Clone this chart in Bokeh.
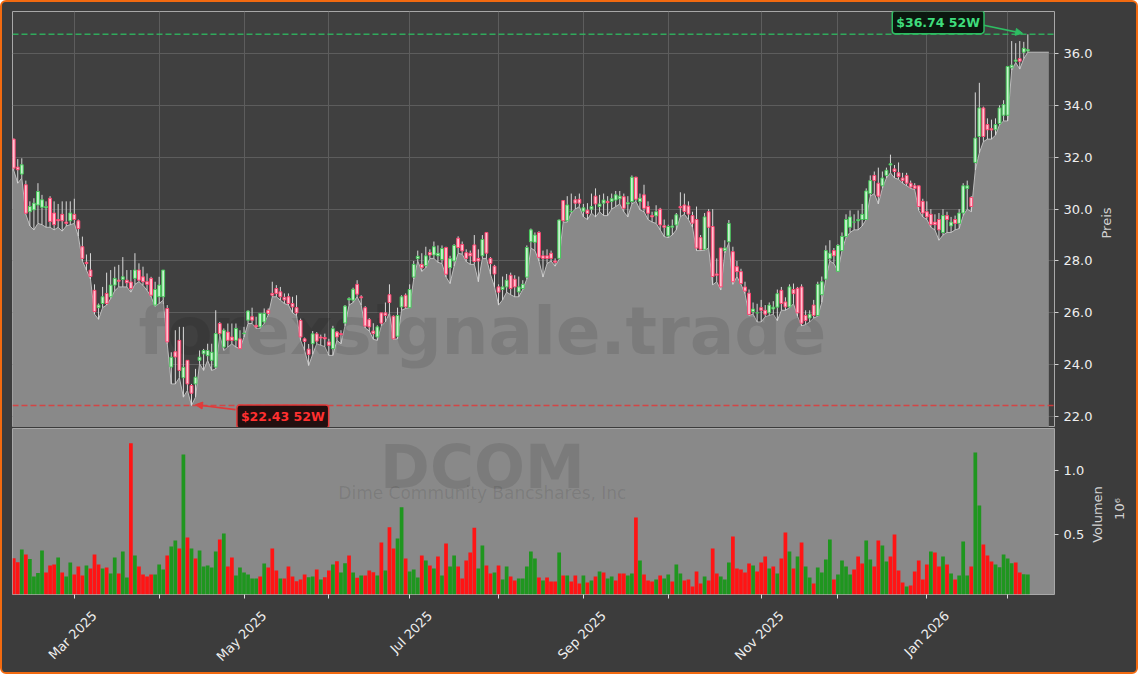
import math
import numpy as np
import pandas as pd
from bokeh.plotting import figure
from bokeh.layouts import column, row
from bokeh.models import (ColumnDataSource, FixedTicker, LinearAxis, Range1d, Span, Label,
                          Arrow, NormalHead, NumeralTickFormatter, Grid)
from bokeh.embed import file_html
from bokeh.resources import INLINE
from bokeh.core.properties import value

# ---------------- data ----------------
HOLIDAYS = ["2025-02-17", "2025-04-18", "2025-05-26", "2025-06-19", "2025-07-04",
            "2025-09-01", "2025-11-27", "2025-12-25", "2026-01-01", "2026-01-19"]
dates = pd.bdate_range("2025-02-07", "2026-02-09", freq="C", holidays=HOLIDAYS)

open_ = [
32.70, 31.62, 31.35, 30.94, 29.90, 29.97, 30.16, 30.07, 30.05, 30.42,
29.85, 29.60, 29.80, 29.50, 29.55, 29.80, 29.55, 28.55, 27.95, 27.65,
26.87, 26.20, 26.36, 26.75, 26.62, 27.07, 27.26, 27.29, 27.26, 27.19,
27.33, 27.65, 27.39, 27.20, 27.33, 26.30, 26.62, 26.62, 26.17, 23.91,
24.50, 24.94, 23.50, 24.17, 23.20, 23.26, 24.17, 24.42, 24.35, 24.17,
23.91, 25.59, 24.68, 25.26, 25.07, 24.94, 25.00, 25.20, 25.72, 25.85,
25.52, 25.46, 25.65, 26.10, 26.75, 26.94, 26.81, 26.60, 26.62, 26.36,
26.20, 25.71, 25.00, 24.60, 24.81, 25.19, 25.07, 25.05, 24.88, 24.62,
25.26, 25.20, 25.61, 26.50, 26.49, 27.10, 26.62, 26.20, 25.74, 25.30,
25.07, 26.00, 26.00, 26.70, 25.87, 25.10, 26.23, 26.68, 26.20, 27.38,
28.09, 27.87, 27.82, 28.33, 28.23, 28.20, 28.06, 28.52, 27.74, 28.00,
28.88, 28.64, 28.32, 28.30, 28.62, 28.10, 28.20, 29.10, 28.10, 27.80,
27.00, 26.90, 27.00, 27.45, 27.30, 26.81, 26.94, 27.38, 28.74, 28.72,
29.10, 28.20, 28.20, 28.30, 28.00, 28.10, 30.33, 29.55, 29.90, 30.36,
30.38, 29.92, 29.96, 30.00, 30.50, 30.10, 30.23, 30.30, 30.30, 30.35,
30.40, 30.48, 30.20, 30.29, 31.23, 30.29, 30.55, 30.10, 29.75, 29.74,
30.00, 29.36, 28.97, 29.30, 29.39, 30.10, 30.16, 30.12, 29.75, 29.60,
28.90, 28.45, 29.90, 29.33, 27.50, 28.50, 28.40, 28.74, 28.36, 27.78,
27.59, 27.00, 26.76, 26.05, 26.00, 26.20, 26.10, 26.00, 26.15, 26.22,
26.87, 26.42, 26.23, 26.90, 26.95, 27.00, 25.90, 25.80, 26.30, 25.90,
26.70, 27.30, 28.10, 28.40, 27.60, 28.40, 28.94, 29.30, 29.50, 29.55,
29.60, 29.60, 30.60, 31.30, 31.00, 30.90, 31.30, 31.70, 31.55, 31.40,
31.20, 31.30, 31.00, 30.90, 30.90, 30.30, 29.90, 29.80, 29.50, 29.60,
29.10, 29.75, 29.35, 29.60, 29.45, 29.85, 30.80, 30.45, 31.80, 32.80,
33.90, 33.26, 33.10, 33.06, 33.30, 33.62, 33.62, 35.45, 35.70, 35.80,
36.05, 36.10]

high = [
32.72, 31.93, 31.96, 31.10, 30.30, 30.42, 31.00, 30.55, 30.30, 30.50,
30.30, 30.20, 30.30, 30.30, 30.30, 30.40, 29.60, 28.94, 28.25, 28.30,
27.10, 26.36, 27.00, 27.55, 27.65, 27.78, 27.85, 28.15, 27.65, 27.65,
28.30, 27.91, 27.78, 27.52, 27.39, 27.20, 27.39, 27.65, 26.30, 24.48,
25.33, 25.46, 25.46, 24.17, 23.26, 23.84, 24.55, 24.61, 24.81, 24.81,
26.10, 25.65, 25.40, 25.59, 25.59, 25.59, 25.33, 25.46, 26.10, 26.20,
25.85, 25.98, 26.17, 26.17, 27.20, 27.07, 27.00, 26.75, 26.75, 26.62,
26.68, 25.78, 25.05, 24.80, 25.30, 25.26, 25.16, 25.20, 25.00, 25.50,
25.30, 25.33, 26.30, 26.60, 26.97, 27.26, 26.68, 26.26, 25.80, 25.60,
25.52, 26.00, 26.40, 27.10, 25.90, 26.20, 26.68, 26.75, 27.10, 28.00,
28.40, 28.30, 28.55, 28.45, 28.75, 28.60, 28.60, 28.55, 28.20, 28.65,
28.95, 28.75, 28.45, 28.40, 29.00, 28.45, 29.00, 29.10, 28.15, 27.85,
27.10, 27.40, 27.50, 27.55, 27.45, 27.40, 27.26, 28.60, 29.25, 29.10,
29.15, 28.40, 28.45, 28.40, 28.10, 29.60, 30.35, 30.50, 30.60, 30.50,
30.60, 30.20, 30.23, 30.60, 30.80, 30.55, 30.60, 30.50, 30.60, 30.70,
30.70, 30.60, 30.50, 31.30, 31.25, 30.60, 30.94, 30.30, 29.90, 30.15,
30.05, 29.60, 29.40, 29.60, 29.85, 30.65, 30.60, 30.30, 29.90, 30.10,
29.00, 29.85, 30.00, 30.00, 28.10, 28.50, 28.80, 29.58, 28.55, 28.00,
27.70, 27.20, 26.90, 26.40, 26.35, 26.50, 26.30, 26.40, 26.45, 26.90,
27.00, 26.60, 27.10, 27.13, 27.00, 27.10, 26.10, 26.10, 26.50, 27.20,
27.40, 28.60, 28.80, 28.50, 28.65, 29.10, 29.80, 29.95, 29.80, 29.95,
30.20, 30.80, 31.30, 31.45, 31.60, 31.45, 31.60, 32.10, 31.70, 31.80,
31.40, 31.40, 31.10, 31.00, 30.90, 30.40, 30.30, 30.00, 29.80, 29.85,
30.00, 29.90, 29.70, 29.75, 30.00, 31.00, 31.10, 30.50, 34.50, 34.87,
33.95, 33.50, 33.45, 33.50, 34.00, 34.20, 35.50, 36.48, 36.40, 36.48,
36.45, 36.74]

low = [
31.50, 31.00, 31.20, 29.80, 29.35, 29.20, 29.45, 29.40, 29.30, 29.30,
29.20, 29.30, 29.15, 29.35, 29.40, 29.45, 28.95, 28.00, 27.65, 27.30,
25.95, 25.75, 26.20, 26.30, 26.55, 26.85, 27.00, 27.00, 27.00, 26.80,
27.10, 27.20, 27.06, 26.87, 26.62, 26.25, 26.36, 26.49, 24.81, 23.26,
23.26, 23.50, 22.75, 23.01, 22.43, 22.75, 24.04, 23.78, 24.17, 23.78,
23.84, 25.13, 24.55, 24.68, 24.81, 24.68, 24.62, 25.07, 25.59, 25.59,
25.40, 25.40, 25.59, 25.92, 26.62, 26.62, 26.49, 26.36, 26.30, 26.00,
25.90, 24.94, 24.55, 23.97, 24.40, 24.81, 24.75, 24.70, 24.36, 24.36,
24.94, 24.81, 25.50, 26.30, 26.40, 26.62, 26.30, 25.42, 25.30, 24.98,
24.94, 25.50, 25.65, 26.00, 24.98, 25.00, 26.10, 26.17, 26.20, 27.30,
28.00, 27.60, 27.74, 28.10, 28.10, 27.95, 27.90, 27.38, 27.13, 27.80,
28.30, 28.26, 27.98, 27.87, 27.87, 27.20, 28.10, 28.10, 27.49, 27.00,
26.30, 26.50, 26.80, 26.70, 26.62, 26.62, 26.90, 27.30, 28.50, 28.40,
28.00, 27.38, 27.90, 28.00, 27.80, 28.06, 29.50, 29.50, 29.85, 30.00,
30.10, 29.70, 29.60, 29.85, 29.70, 29.90, 29.75, 29.75, 30.00, 30.10,
30.20, 29.90, 29.70, 30.20, 30.30, 29.97, 29.90, 29.60, 29.50, 29.45,
29.20, 28.94, 28.90, 29.00, 29.20, 29.71, 29.80, 29.60, 29.30, 28.40,
28.40, 28.42, 28.50, 27.08, 27.20, 26.88, 28.30, 28.70, 27.10, 27.40,
27.10, 26.74, 25.90, 25.95, 25.65, 25.65, 25.85, 25.90, 25.95, 25.70,
26.10, 26.10, 26.20, 26.35, 25.87, 25.50, 25.55, 25.65, 25.80, 25.87,
26.40, 27.30, 28.00, 27.90, 27.60, 28.40, 28.90, 29.10, 29.20, 29.20,
29.35, 29.60, 30.50, 30.60, 30.20, 30.80, 31.20, 31.40, 31.20, 31.15,
31.00, 30.90, 30.80, 30.75, 29.95, 29.70, 29.60, 29.30, 29.20, 28.80,
29.00, 29.10, 29.10, 29.20, 29.25, 29.75, 30.00, 29.90, 31.50, 32.17,
32.60, 32.70, 32.70, 32.85, 33.25, 33.40, 33.40, 35.35, 35.65, 35.40,
35.80, 36.05]

close = [
31.58, 31.52, 31.71, 29.84, 30.10, 30.23, 30.68, 30.36, 30.10, 29.52,
29.40, 29.55, 29.55, 29.45, 29.85, 29.60, 29.25, 28.10, 27.90, 27.40,
26.05, 26.30, 26.62, 26.36, 27.07, 27.33, 27.22, 27.39, 27.16, 26.94,
27.65, 27.26, 27.20, 27.10, 26.68, 26.90, 27.07, 27.65, 24.88, 24.29,
24.30, 23.78, 23.90, 23.26, 22.90, 23.52, 24.29, 24.55, 24.55, 24.48,
25.20, 25.20, 25.33, 24.94, 24.94, 25.40, 24.62, 25.22, 26.07, 25.72,
25.46, 25.98, 25.98, 25.98, 26.68, 26.75, 26.62, 26.50, 26.36, 26.23,
26.00, 25.07, 24.90, 24.40, 25.19, 24.91, 25.03, 25.00, 24.75, 25.39,
25.07, 25.16, 26.26, 26.55, 26.91, 26.72, 26.58, 25.49, 25.46, 25.20,
25.46, 25.60, 25.90, 26.40, 25.00, 25.90, 26.62, 26.23, 26.90, 27.87,
28.18, 27.74, 28.20, 28.23, 28.55, 28.30, 28.48, 27.49, 28.09, 28.60,
28.52, 28.39, 28.10, 28.20, 27.98, 28.00, 28.83, 28.30, 27.90, 27.50,
26.80, 27.00, 27.26, 26.94, 27.00, 27.00, 27.10, 28.52, 29.20, 29.00,
28.14, 28.10, 28.10, 28.10, 27.95, 29.58, 29.55, 30.16, 29.92, 30.23,
30.23, 30.05, 29.83, 30.10, 30.20, 30.20, 30.35, 30.25, 30.40, 30.55,
30.50, 30.03, 30.25, 31.23, 30.38, 30.42, 30.03, 29.84, 29.70, 29.90,
29.39, 29.30, 29.33, 29.35, 29.78, 30.05, 29.91, 29.81, 29.46, 28.50,
28.45, 29.70, 29.30, 27.40, 27.45, 27.00, 28.50, 29.45, 27.20, 27.59,
27.13, 26.84, 25.94, 26.15, 26.00, 26.10, 25.95, 26.30, 26.22, 26.74,
26.36, 26.23, 27.00, 26.74, 26.00, 25.60, 25.70, 25.95, 25.90, 27.10,
27.20, 28.40, 28.30, 28.20, 28.60, 28.95, 29.60, 29.70, 29.50, 29.60,
29.80, 30.70, 31.10, 31.10, 30.50, 31.20, 31.50, 31.75, 31.45, 31.25,
31.10, 31.00, 30.85, 30.80, 30.10, 29.85, 29.70, 29.40, 29.40, 29.20,
29.75, 29.60, 29.50, 29.45, 29.85, 30.90, 30.90, 30.10, 32.74, 33.90,
32.80, 33.06, 33.05, 33.26, 33.90, 34.03, 35.50, 35.55, 35.75, 35.70,
36.20, 36.15]

volume = [
318000, 287000, 386000, 347000, 313000, 176000, 204000, 378000, 207000, 261000,
269000, 323000, 207000, 176000, 285000, 191000, 254000, 184000, 261000, 238000,
347000, 269000, 238000, 246000, 199000, 323000, 199000, 370000, 168000, 1212000,
339000, 254000, 191000, 176000, 191000, 191000, 269000, 230000, 339000, 409000,
456000, 393000, 1124000, 479000, 393000, 316000, 378000, 254000, 261000, 246000,
370000, 463000, 510000, 254000, 323000, 184000, 246000, 207000, 191000, 160000,
160000, 176000, 277000, 246000, 393000, 222000, 160000, 160000, 254000, 176000,
139000, 152000, 191000, 170000, 176000, 230000, 152000, 170000, 222000, 269000,
295000, 207000, 279000, 339000, 207000, 166000, 184000, 184000, 222000, 209000,
184000, 440000, 222000, 559000, 393000, 471000, 715000, 316000, 215000, 230000,
168000, 339000, 300000, 261000, 238000, 331000, 184000, 432000, 254000, 339000,
254000, 160000, 300000, 362000, 556000, 238000, 417000, 261000, 199000, 207000,
261000, 152000, 254000, 176000, 145000, 160000, 160000, 254000, 370000, 316000,
168000, 145000, 168000, 137000, 137000, 362000, 184000, 184000, 137000, 184000,
121000, 184000, 129000, 145000, 176000, 215000, 207000, 160000, 176000, 145000,
199000, 199000, 184000, 199000, 635000, 300000, 191000, 145000, 137000, 152000,
184000, 160000, 191000, 137000, 269000, 199000, 145000, 152000, 98000, 215000,
121000, 176000, 145000, 393000, 199000, 176000, 152000, 285000, 487000, 238000,
230000, 207000, 277000, 261000, 215000, 285000, 331000, 238000, 254000, 199000,
316000, 518000, 370000, 238000, 331000, 440000, 254000, 168000, 121000, 246000,
207000, 308000, 463000, 152000, 191000, 300000, 253000, 191000, 230000, 331000,
277000, 456000, 308000, 253000, 456000, 417000, 292000, 331000, 502000, 222000,
129000, 98000, 106000, 215000, 300000, 152000, 269000, 370000, 362000, 253000,
331000, 269000, 199000, 152000, 184000, 448000, 184000, 253000, 1140000, 728000,
425000, 339000, 292000, 269000, 248000, 347000, 316000, 279000, 285000, 207000,
194000, 191000]

vol_up = [
0, 0, 1, 0, 1, 1, 1, 1, 0, 0,  0, 1, 0, 1, 1, 0, 0, 0, 1, 0,
0, 0, 1, 0, 1, 1, 0, 1, 1, 0,  1, 0, 0, 0, 0, 1, 1, 1, 0, 1,
1, 0, 1, 0, 1, 0, 1, 1, 1, 1,  1, 0, 1, 0, 0, 1, 1, 1, 1, 1,
1, 0, 1, 0, 0, 0, 1, 0, 0, 0,  0, 0, 0, 1, 1, 0, 1, 0, 0, 1,
0, 1, 1, 0, 1, 0, 1, 0, 0, 0,  1, 0, 1, 0, 0, 1, 1, 0, 1, 1,
1, 0, 1, 0, 1, 0, 1, 0, 1, 1,  0, 0, 0, 0, 0, 1, 1, 0, 0, 1,
0, 1, 1, 0, 0, 1, 1, 1, 1, 1,  0, 1, 0, 0, 0, 1, 0, 1, 0, 0,
0, 1, 0, 1, 0, 1, 0, 1, 1, 0,  0, 0, 1, 1, 0, 1, 0, 0, 0, 1,
0, 1, 1, 0, 1, 1, 0, 0, 0, 0,  0, 1, 0, 0, 0, 1, 1, 1, 0, 0,
0, 0, 0, 1, 0, 0, 0, 1, 0, 1,  0, 0, 1, 0, 1, 0, 1, 1, 0, 1,
1, 1, 1, 0, 1, 1, 1, 1, 0, 0,  0, 1, 1, 0, 0, 1, 1, 0, 0, 0,
0, 1, 0, 0, 0, 0, 0, 1, 0, 0,  1, 0, 1, 0, 1, 1, 1, 0, 1, 1,
0, 0, 0, 1, 1, 1, 1, 1, 0, 0,  1, 1]

N = len(dates)
assert len(open_) == N and len(high) == N and len(low) == N and len(close) == N
assert len(volume) == N and len(vol_up) == N

TICK_LABEL_FMT = "%b %Y"
LABELLED_MONTHS = [3, 5, 7, 9, 11, 1]

# ---------------- styling ----------------
FONT = "DejaVu Sans"
BG_OUTER = "#3c3c3c"
BG_PRICE = "#404040"
AREA = "#898989"
AREA_LINE = "#bdbdbd"
GRID = "#5d5d5d"
OUTLINE = "#a8a8a8"
UP_LINE, UP_FILL = "#46c95a", "#c8f3cf"
DN_LINE, DN_FILL = "#ff4470", "#ffc4d2"
WICK = "#d8d8d8"
VOL_UP, VOL_DN = "#1f961f", "#ff1414"
HI_COL, HI_TXT, HI_BG = "#2ebd62", "#3fdc7c", "#08160d"
LO_COL, LO_TXT, LO_BG = "#e23a3a", "#ff3030", "#1c0808"
TXT = "#eeeeee"
AX_LBL = "#d2d2d2"

x = np.arange(N)
o = np.array(open_); h = np.array(high); l = np.array(low); c = np.array(close)
up = c >= o

X_RANGE = (-0.3, 257.6)
AREA_RIGHT_PAD = 5.2

# month ticks
month_idx = [i for i in range(N) if i == 0 or dates[i].month != dates[i - 1].month][1:]
lab_idx = [i for i in month_idx if dates[i].month in LABELLED_MONTHS]
LABEL_SHIFT = 5.0
lab_pos = [float(i) + LABEL_SHIFT for i in lab_idx]
lab_over = {p: dates[i].strftime(TICK_LABEL_FMT) for p, i in zip(lab_pos, lab_idx)}

W = 1134
FRAME_W = 1042
LEFT = 10
R1, R2 = 44, 36           # right margins holding the tick labels
H1, H2 = 425, 245
FH1, FH2 = 416, 166       # frame heights of the two panels


def style_yaxis(ax):
    ax.formatter = NumeralTickFormatter(format="0.0")
    ax.axis_line_color = None
    ax.major_tick_out = 4
    ax.major_tick_in = 0
    ax.minor_tick_line_color = None
    ax.major_tick_line_color = "#cfcfcf"
    ax.major_label_text_color = TXT
    ax.major_label_text_font = FONT
    ax.major_label_text_font_size = "13px"
    ax.major_label_standoff = 5


def title_strip(width, height, frame_h, items):
    """narrow figure holding rotated axis titles (read bottom-to-top);
    its frame is aligned with the neighbouring panel's frame"""
    f = figure(width=width, height=height, x_range=Range1d(0, width), y_range=Range1d(0, frame_h),
               output_backend="svg", toolbar_location=None, x_axis_location=None,
               y_axis_location=None, min_border=0)
    f.background_fill_color = BG_OUTER
    f.border_fill_color = BG_OUTER
    f.outline_line_color = None
    f.xgrid.visible = False
    f.ygrid.visible = False
    for txt, sx, sy in items:
        f.text(x=[sx], y=[sy], text=[txt], angle=math.pi / 2, text_align="center",
               text_baseline="middle", text_font=value(FONT), text_font_size="13px",
               text_color=AX_LBL)
    return f


# ---------------- price figure ----------------
p1 = figure(width=LEFT + FRAME_W + R1, height=H1, x_range=Range1d(*X_RANGE),
            y_range=Range1d(21.58, 37.62), output_backend="svg", toolbar_location=None,
            x_axis_location=None, y_axis_location="right", min_border_left=LEFT,
            min_border_top=9, min_border_bottom=0, min_border_right=R1)
p1.background_fill_color = BG_PRICE
p1.border_fill_color = BG_OUTER
p1.outline_line_color = OUTLINE
p1.outline_line_width = 1
p1.xgrid.visible = False

yt = FixedTicker(ticks=list(range(22, 37, 2)))
p1.yaxis.ticker = yt
p1.ygrid.ticker = yt
p1.ygrid.grid_line_color = GRID
p1.add_layout(Grid(dimension=0, ticker=FixedTicker(ticks=month_idx), grid_line_color=GRID))
style_yaxis(p1.yaxis[0])

# area of lows, extended to the frame edges
ax_ = np.concatenate([[X_RANGE[0]], x, [x[-1] + AREA_RIGHT_PAD]])
al_ = np.concatenate([[l[0]], l, [l[-1]]])
p1.varea(x=ax_, y1=21.0, y2=al_, fill_color=AREA, fill_alpha=1.0)
p1.line(x=ax_, y=al_, line_color=AREA_LINE, line_width=1)

# watermark
p1.text(x=[116], y=[25.27], text=["forexsignale.trade"], text_font=value(FONT),
        text_font_style="bold", text_font_size="66px", text_color="black", text_alpha=0.1,
        text_align="center", text_baseline="alphabetic")

# candles
src = ColumnDataSource(dict(
    x=x, top=np.maximum(o, c), bottom=np.minimum(o, c),
    hi=np.maximum(h, np.maximum(o, c)), lo=np.minimum(l, np.minimum(o, c)),
    fill=[UP_FILL if u else DN_FILL for u in up],
    line=[UP_LINE if u else DN_LINE for u in up]))
p1.segment(x0="x", y0="hi", x1="x", y1="lo", source=src, line_color=WICK, line_width=1)
p1.vbar(x="x", top="top", bottom="bottom", width=0.7, source=src,
        fill_color="fill", line_color="line", line_width=1)

# 52W high / low
hi_i = int(np.argmax(h)); hi_v = float(h[hi_i])
lo_i = int(np.argmin(l)); lo_v = float(l[lo_i])
p1.add_layout(Span(location=hi_v, dimension="width", line_color=HI_COL, line_dash="6 3",
                   line_width=1.5, line_alpha=0.85))
p1.add_layout(Span(location=lo_v, dimension="width", line_color=LO_COL, line_dash="6 3",
                   line_width=1.5, line_alpha=0.85))
p1.add_layout(Arrow(end=NormalHead(size=7, fill_color=HI_COL, line_color=HI_COL),
                    x_start=hi_i - 11.2, y_start=hi_v + 0.36, x_end=hi_i - 1.3, y_end=hi_v + 0.04,
                    line_color=HI_COL, line_width=1.6))
p1.add_layout(Arrow(end=NormalHead(size=7, fill_color=LO_COL, line_color=LO_COL),
                    x_start=lo_i + 10.9, y_start=lo_v - 0.16, x_end=lo_i + 1.0, y_end=lo_v + 0.03,
                    line_color=LO_COL, line_width=1.6))
p1.add_layout(Label(x=hi_i - 22.2, y=hi_v + 0.47, text=f"${hi_v:.2f} 52W", text_align="center",
                    text_baseline="middle", text_font=FONT, text_font_style="bold",
                    text_font_size="12.5px", text_color=HI_TXT, background_fill_color=HI_BG,
                    background_fill_alpha=0.95, border_line_color=HI_COL, border_line_width=1.5,
                    padding=4, border_radius=3))
p1.add_layout(Label(x=lo_i + 22.6, y=lo_v - 0.43, text=f"${lo_v:.2f} 52W", text_align="center",
                    text_baseline="middle", text_font=FONT, text_font_style="bold",
                    text_font_size="12.5px", text_color=LO_TXT, background_fill_color=LO_BG,
                    background_fill_alpha=0.95, border_line_color=LO_COL, border_line_width=1.5,
                    padding=4, border_radius=3))

# ---------------- volume figure ----------------
p2 = figure(width=LEFT + FRAME_W + R2, height=H2, x_range=p1.x_range,
            y_range=Range1d(0.036, 1.327), output_backend="svg", toolbar_location=None,
            x_axis_location=None, y_axis_location="right", min_border_left=LEFT,
            min_border_top=1, min_border_bottom=78, min_border_right=R2)
p2.background_fill_color = AREA
p2.border_fill_color = BG_OUTER
p2.outline_line_color = OUTLINE
p2.outline_line_width = 1
p2.ygrid.visible = False
p2.xgrid.visible = False

p2.text(x=[116], y=[1.03], text=["DCOM"], text_font=value(FONT), text_font_style="bold",
        text_font_size="60px", text_color="black", text_alpha=0.1, text_align="center",
        text_baseline="alphabetic")
p2.text(x=[116], y=[0.826], text=["Dime Community Bancshares, Inc"], text_font=value(FONT),
        text_font_size="17px", text_color="black", text_alpha=0.1, text_align="center",
        text_baseline="alphabetic")

vsrc = ColumnDataSource(dict(x=x, v=np.array(volume) / 1e6,
                             col=[VOL_UP if u else VOL_DN for u in vol_up]))
p2.vbar(x="x", top="v", bottom=0, width=0.92, source=vsrc, fill_color="col", line_color=None)

p2.yaxis[0].ticker = FixedTicker(ticks=[0.5, 1.0])
style_yaxis(p2.yaxis[0])

xa = LinearAxis(ticker=FixedTicker(ticks=lab_pos, minor_ticks=month_idx))
xa.major_label_overrides = lab_over
xa.major_label_orientation = math.pi / 4
xa.major_tick_line_color = None
xa.minor_tick_line_color = "#dddddd"
xa.minor_tick_out = 4
xa.minor_tick_in = 0
xa.axis_line_color = None
xa.major_label_text_color = TXT
xa.major_label_text_font = FONT
xa.major_label_text_font_size = "13px"
xa.major_label_standoff = 13
p2.add_layout(xa, "below")

# axis titles in the right-hand strips (y measured up from each panel's frame bottom)
w1 = W - (LEFT + FRAME_W + R1)
w2 = W - (LEFT + FRAME_W + R2)
t1 = title_strip(w1, H1, FH1, [("Preis", 8, 204.5)])
t2 = title_strip(w2, H2, FH2, [("Volumen", 7, 80), ("10\u2076", 28.5, 85.5)])

layout = column(row(p1, t1, spacing=0), row(p2, t2, spacing=0), spacing=0,
                styles={"border": "2px solid #f26a10", "border-radius": "6px",
                        "overflow": "hidden", "background-color": BG_OUTER})

open("out.html", "w").write(file_html(layout, INLINE))
